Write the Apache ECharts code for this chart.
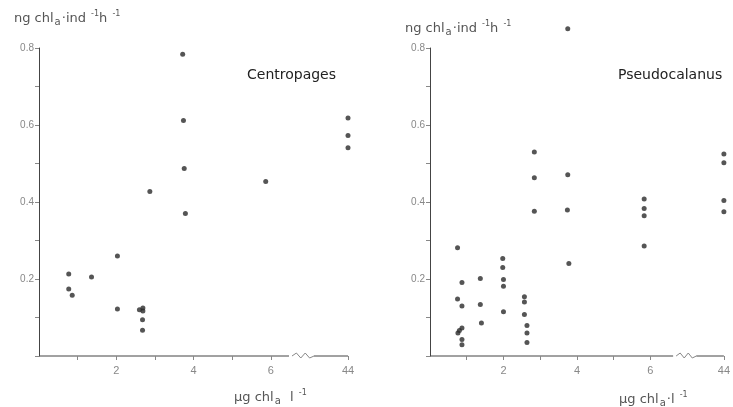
<!DOCTYPE html>
<html><head><meta charset="utf-8">
<script src="https://cdn.jsdelivr.net/npm/echarts@6/dist/echarts.min.js"></script>
<style>html,body{margin:0;padding:0;background:#fff}#c{width:733px;height:407px}</style>
</head><body><div id="c"></div>
<script>
// Centropages
const centroX = [3.72,3.74,3.76,2.87,5.87,44,44,44,3.79,2.03,0.77,1.36,0.77,0.86,2.03,2.60,2.69,2.69,2.68,2.68];
const centroY = [0.784,0.612,0.487,0.427,0.453,0.618,0.573,0.541,0.370,0.260,0.213,0.205,0.174,0.158,0.122,0.120,0.125,0.117,0.094,0.067];
// Pseudocalanus
const pseudoX = [3.75,2.84,2.84,3.75,5.83,44,44,44,5.83,5.83,5.83,44,2.84,3.74,3.78,0.75,0.87,0.75,0.87,0.87,0.80,0.76,0.87,0.87,1.37,1.37,1.40,1.98,1.98,2.0,2.0,2.0,2.57,2.57,2.57,2.64,2.64,2.64];
const pseudoY = [0.850,0.530,0.463,0.471,0.408,0.525,0.502,0.404,0.383,0.364,0.286,0.375,0.376,0.379,0.240,0.281,0.191,0.148,0.130,0.073,0.066,0.060,0.043,0.029,0.201,0.134,0.086,0.253,0.230,0.199,0.181,0.115,0.154,0.140,0.108,0.079,0.060,0.035];
// axis
const xTickValues = [1,2,3,4,5,6,44];
const xLabelValues = [2,4,6,44];
const yLabels = ['0.2','0.4','0.6','0.8'];
const panelNames = ['Centropages','Pseudocalanus'];

// broken x axis: values beyond the break are placed at the axis end
const BREAK_POS = 8;
const xPos = v => (v > 10 ? BREAK_POS : v);
const xVal = p => (p === BREAK_POS ? 44 : p);

const FONT = '"Liberation Sans", Arial, sans-serif';
const FONT2 = '"DejaVu Sans", sans-serif';
const grids = [
  {left: 39, top: 48, width: 309, height: 308},
  {left: 430, top: 48, width: 301, height: 308}
];
const breaks = [[6.55, 7.12], [6.7, 7.25]];

function xAxisCfg(i){
  return {
    gridIndex: i, type: 'value', min: 0, max: BREAK_POS,
    axisLine: {show: false},
    splitLine: {show: false},
    axisTick: {show: true, length: 4, lineStyle: {color: '#888'}, customValues: xTickValues.map(xPos)},
    axisLabel: {show: true, customValues: xLabelValues.map(xPos), formatter: v => String(xVal(v)),
      color: '#888', fontSize: 11, fontFamily: FONT, margin: 9}
  };
}
function yAxisCfg(i){
  return {
    gridIndex: i, type: 'value', min: 0, max: 0.8, interval: 0.1,
    axisLine: {show: true, lineStyle: {color: '#444', width: 1}},
    splitLine: {show: false},
    axisTick: {show: true, length: 4, lineStyle: {color: '#888'}},
    axisLabel: {color: '#888', fontSize: 10, fontFamily: FONT, margin: 5,
      formatter: v => { const k = Math.round(v * 10); return (k > 0 && k % 2 === 0) ? yLabels[k/2 - 1] : ''; }}
  };
}
const rich = {
  n: {fontSize: 13, color: '#555', fontFamily: FONT2, fontWeight: 'normal'},
  s: {fontSize: 10, color: '#555', fontFamily: FONT2, fontWeight: 'normal', padding: [7, 1, 0, 1]},
  p: {fontSize: 8, color: '#555', fontFamily: FONT2, fontWeight: 'normal', padding: [0, 0, 9, 1]}
};
const scatterStyle = {color: '#2a2a2a'};
const chart = echarts.init(document.getElementById('c'), null, {renderer: 'canvas'});
chart.setOption({
  animation: false,
  backgroundColor: '#fff',
  grid: grids,
  xAxis: [xAxisCfg(0), xAxisCfg(1)],
  yAxis: [yAxisCfg(0), yAxisCfg(1)],
  title: [
    {text: '{n|ng chl}{s|a}{n|·ind }{p|-1}{n|h }{p|-1}', left: 9, top: 5, textStyle: {rich}},
    {text: '{n|ng chl}{s|a}{n|·ind }{p|-1}{n|h }{p|-1}', left: 400, top: 15, textStyle: {rich}},
    {text: panelNames[0], left: 242, top: 63, textStyle: {fontSize: 14, color: '#222', fontWeight: 'normal', fontFamily: FONT2}},
    {text: panelNames[1], left: 613, top: 63, textStyle: {fontSize: 14, color: '#222', fontWeight: 'normal', fontFamily: FONT2}},
    {text: '{n|µg chl}{s|a}{n|  l }{p|-1}', left: 229, top: 384, textStyle: {rich}},
    {text: '{n|µg chl}{s|a}{n|·l }{p|-1}', left: 614, top: 386, textStyle: {rich}}
  ],
  series: [
    {type: 'scatter', xAxisIndex: 0, yAxisIndex: 0, symbolSize: 5, clip: false, itemStyle: scatterStyle,
      data: centroX.map((x, k) => [xPos(x), centroY[k]])},
    {type: 'scatter', xAxisIndex: 1, yAxisIndex: 1, symbolSize: 5, clip: false, itemStyle: scatterStyle,
      data: pseudoX.map((x, k) => [xPos(x), pseudoY[k]])}
  ]
});

// draw x axis lines with break squiggle, positioned via the axis scale
const graphics = [];
for (let i = 0; i < 2; i++) {
  const px = v => chart.convertToPixel({gridIndex: i}, [v, 0]);
  const p0 = px(0), pa = px(breaks[i][0]), pb = px(breaks[i][1]), p1 = px(BREAK_POS);
  const y = p0[1];
  const ls = {stroke: '#444', lineWidth: 1, fill: null};
  graphics.push({type: 'polyline', shape: {points: [[p0[0], y], [pa[0] - 3, y]]}, style: ls, silent: true});
  const zz = [];
  const w = pb[0] - pa[0];
  const n = 5;
  for (let k = 0; k <= n; k++) {
    zz.push([pa[0] + w * k / n, y + (k === 0 || k === n ? 0 : (k % 2 ? -3 : 2))]);
  }
  graphics.push({type: 'polyline', shape: {points: zz}, style: {stroke: '#888', lineWidth: 1, fill: null}, silent: true});
  graphics.push({type: 'polyline', shape: {points: [[pb[0], y], [p1[0], y]]}, style: ls, silent: true});
}
chart.setOption({graphic: graphics});
</script></body></html>
